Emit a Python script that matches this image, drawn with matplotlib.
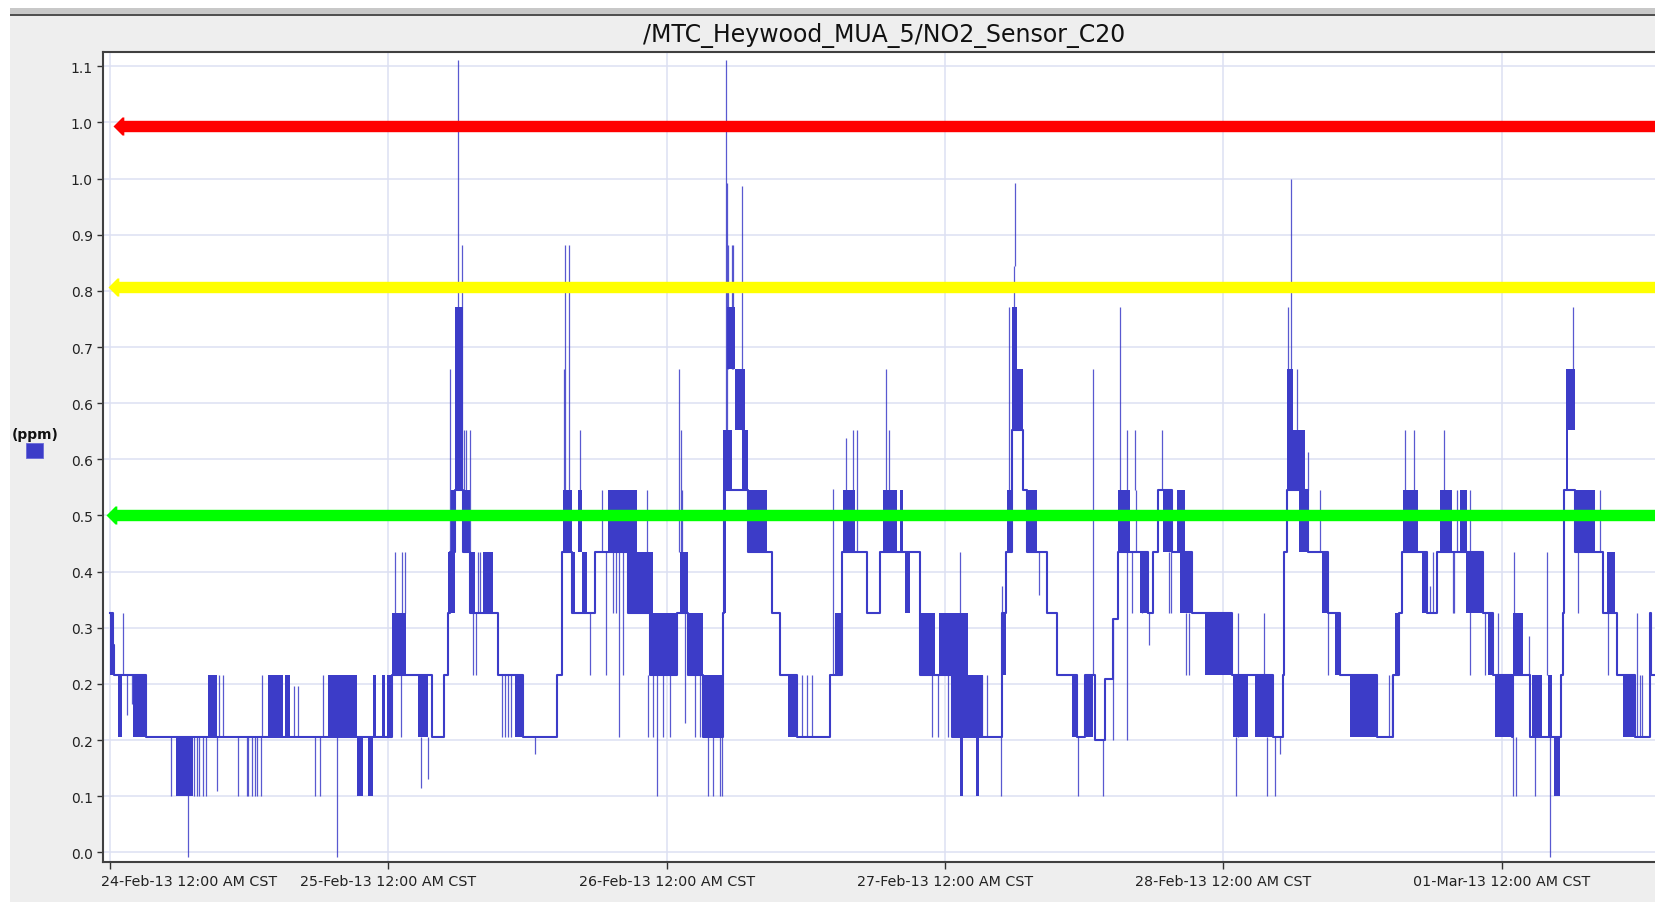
#NO2 sensor trace with alarm thresholds, recreated with matplotlib
import numpy as np
import matplotlib
matplotlib.use('Agg')
from matplotlib import pyplot as plt
from matplotlib.patches import Rectangle
from matplotlib.transforms import ScaledTranslation

#hours since 24-Feb-13 12:00 AM and the ppm level that starts there (step trace)
trace_h = [0.0, 0.25, 0.36, 3.1, 24.3, 27.75, 28.81, 29.18, 29.3, 29.76,
           30.48, 31.05, 33.5, 35.65, 38.52, 39.0, 39.82, 41.83, 44.7, 46.57,
           48.87, 49.87, 51.11, 52.89, 52.95, 54.99, 57.05, 57.77, 59.21, 62.08,
           63.09, 65.24, 66.39, 69.85, 72.58, 76.89, 77.26, 77.75, 78.76, 79.04,
           80.77, 81.63, 83.35, 84.07, 84.93, 85.8, 86.51, 86.95, 89.53, 89.96,
           90.39, 91.54, 93.26, 96.71, 100.3, 101.17, 101.2, 101.45, 103.32, 105.05,
           106.05, 109.21, 110.65, 111.13, 111.4, 113.52, 114.38, 118.41, 119.27, 120.85,
           120.99, 122.43, 125.1, 125.3, 125.39, 126.31, 128.75, 129.9, 131.48, 132.77,
           132.85, 133.3]
trace_ppm = [0.341, 0.295, 0.252, 0.165, 0.252, 0.165, 0.252, 0.341, 0.428, 0.516,
             0.428, 0.341, 0.252, 0.165, 0.252, 0.428, 0.341, 0.428, 0.341, 0.252,
             0.341, 0.252, 0.165, 0.341, 0.516, 0.428, 0.341, 0.252, 0.165, 0.252,
             0.428, 0.341, 0.428, 0.252, 0.165, 0.341, 0.428, 0.602, 0.516, 0.428,
             0.341, 0.252, 0.165, 0.252, 0.160, 0.247, 0.333, 0.428, 0.341, 0.428,
             0.516, 0.428, 0.341, 0.252, 0.165, 0.252, 0.428, 0.516, 0.428, 0.341,
             0.252, 0.165, 0.252, 0.341, 0.428, 0.341, 0.428, 0.341, 0.252, 0.165,
             0.252, 0.165, 0.252, 0.341, 0.516, 0.428, 0.341, 0.252, 0.165, 0.341,
             0.252, 0.252]

#stretches where the reading flickers fast between two levels (start h, end h, low, high)
band_start = [0.0, 0.74, 2.03, 5.71, 8.44, 13.67, 15.1, 18.84, 21.28, 22.29,
              22.72, 23.44, 23.87, 24.3, 26.6, 29.18, 29.39, 29.76, 30.48, 31.05,
              32.2, 34.93, 39.1, 39.82, 40.39, 40.68, 42.98, 44.7, 46.57, 49.15,
              49.87, 51.11, 52.89, 52.95, 53.2, 53.89, 54.47, 54.99, 58.49, 62.51,
              63.18, 66.69, 68.12, 68.55, 69.85, 71.51, 72.58, 73.3, 74.01, 74.68,
              76.89, 77.32, 77.75, 78.18, 79.04, 82.92, 84.07, 86.95, 88.81, 90.82,
              91.97, 92.26, 94.41, 96.86, 98.72, 101.45, 101.89, 102.55, 104.47, 105.62,
              106.91, 110.79, 111.51, 113.15, 114.67, 116.39, 116.9, 118.84, 119.41, 120.27,
              120.99, 122.57, 124.01, 124.53, 125.5, 125.73, 126.31, 129.04, 130.47]
band_end = [0.36, 1.05, 3.03, 7.2, 9.27, 14.96, 15.53, 21.28, 21.86, 22.72,
            22.95, 23.73, 24.3, 25.51, 27.46, 29.76, 29.76, 30.48, 31.05, 31.48,
            33.06, 35.65, 39.82, 40.1, 40.68, 41.1, 45.42, 46.85, 48.87, 49.87,
            51.16, 52.89, 53.1, 53.61, 53.9, 54.76, 55.04, 56.62, 59.21, 63.09,
            64.24, 67.84, 68.41, 68.99, 71.14, 72.58, 74.01, 73.58, 75.3, 74.9,
            77.26, 77.75, 78.18, 78.76, 79.91, 83.35, 84.79, 87.95, 89.53, 91.54,
            92.69, 93.26, 96.71, 98.15, 100.3, 102.03, 103.03, 103.32, 105.05, 106.05,
            109.21, 111.13, 112.8, 113.52, 115.68, 116.97, 118.41, 119.27, 120.27, 120.85,
            121.85, 123.43, 124.3, 125.01, 125.73, 126.31, 128.03, 129.76, 131.48]
band_low = [0.252, 0.165, 0.165, 0.080, 0.165, 0.165, 0.165, 0.165, 0.080, 0.080,
            0.165, 0.165, 0.165, 0.252, 0.165, 0.341, 0.428, 0.516, 0.428, 0.341,
            0.341, 0.165, 0.428, 0.341, 0.428, 0.341, 0.428, 0.341, 0.252, 0.341,
            0.252, 0.165, 0.341, 0.516, 0.689, 0.602, 0.516, 0.428, 0.165, 0.252,
            0.428, 0.428, 0.428, 0.341, 0.252, 0.252, 0.165, 0.080, 0.165, 0.080,
            0.252, 0.428, 0.602, 0.602, 0.428, 0.165, 0.165, 0.428, 0.341, 0.428,
            0.428, 0.341, 0.252, 0.165, 0.165, 0.516, 0.516, 0.428, 0.341, 0.252,
            0.165, 0.252, 0.428, 0.341, 0.428, 0.428, 0.341, 0.252, 0.165, 0.165,
            0.252, 0.165, 0.165, 0.080, 0.516, 0.602, 0.428, 0.341, 0.165]
band_high = [0.341, 0.252, 0.252, 0.165, 0.252, 0.252, 0.252, 0.252, 0.165, 0.165,
             0.252, 0.252, 0.252, 0.341, 0.252, 0.428, 0.516, 0.777, 0.516, 0.428,
             0.428, 0.252, 0.516, 0.428, 0.516, 0.428, 0.516, 0.428, 0.341, 0.428,
             0.341, 0.252, 0.602, 0.602, 0.777, 0.689, 0.602, 0.516, 0.252, 0.341,
             0.516, 0.516, 0.516, 0.428, 0.341, 0.341, 0.341, 0.165, 0.252, 0.165,
             0.341, 0.516, 0.777, 0.689, 0.516, 0.252, 0.252, 0.516, 0.428, 0.516,
             0.516, 0.428, 0.341, 0.252, 0.252, 0.689, 0.602, 0.516, 0.428, 0.341,
             0.252, 0.341, 0.516, 0.428, 0.516, 0.516, 0.428, 0.341, 0.252, 0.252,
             0.341, 0.252, 0.252, 0.165, 0.689, 0.689, 0.516, 0.428, 0.252]

#single readings that jump away from the trace (hour, from, to)
spike_h = [1.11, 1.51, 1.88, 5.25, 6.77, 7.29, 7.49, 7.69, 8.0, 8.29,
           9.21, 9.44, 9.79, 11.08, 11.8, 11.94, 12.29, 12.52, 12.66, 13.03,
           13.15, 15.91, 16.25, 17.69, 18.12, 18.35, 19.6, 24.59, 25.08, 25.16,
           25.45, 26.8, 27.46, 29.35, 30.05, 30.33, 30.55, 30.71, 31.05, 31.35,
           31.55, 31.7, 31.9, 33.78, 34.07, 34.36, 34.6, 36.66, 39.15, 39.24,
           39.6, 40.5, 41.4, 42.4, 42.78, 43.41, 43.6, 43.93, 44.27, 46.28,
           46.37, 46.8, 47.72, 48.29, 47.14, 49.1, 49.21, 49.3, 49.58, 50.45,
           50.88, 51.6, 52.03, 52.6, 52.74, 53.12, 53.18, 53.3, 53.6, 53.75,
           54.47, 59.64, 60.07, 60.5, 62.37, 63.46, 64.1, 64.44, 66.82, 66.92,
           67.2, 70.85, 71.43, 72.29, 73.3, 75.16, 75.6, 76.8, 76.89, 77.55,
           77.95, 78.04, 80.14, 83.5, 84.73, 85.65, 86.51, 87.09, 87.66, 88.38,
           88.1, 88.96, 89.39, 88.47, 89.61, 90.74, 91.3, 91.5, 92.8, 93.0,
           97.09, 97.29, 99.5, 99.73, 100.45, 100.9, 101.54, 101.83, 102.32, 103.32,
           104.33, 105.05, 110.3, 110.5, 111.65, 112.43, 113.81, 114.1, 115.04, 115.75,
           115.9, 116.11, 117.26, 118.55, 119.64, 121.08, 121.0, 121.2, 122.37, 122.86,
           123.86, 124.15, 126.11, 126.59, 128.5, 129.18, 131.62, 131.91, 132.05]
spike_from = [0.252, 0.196, 0.212, 0.080, -0.007, 0.080, 0.080, 0.080, 0.080, 0.080,
              0.088, 0.165, 0.165, 0.080, 0.080, 0.080, 0.080, 0.080, 0.080, 0.080,
              0.165, 0.165, 0.165, 0.080, 0.080, 0.165, -0.007, 0.341, 0.165, 0.341,
              0.341, 0.091, 0.104, 0.428, 0.689, 0.516, 0.516, 0.516, 0.428, 0.252,
              0.252, 0.341, 0.341, 0.165, 0.165, 0.165, 0.165, 0.140, 0.516, 0.428,
              0.428, 0.516, 0.252, 0.428, 0.252, 0.341, 0.341, 0.165, 0.252, 0.428,
              0.165, 0.165, 0.165, 0.165, 0.080, 0.428, 0.428, 0.428, 0.184, 0.165,
              0.165, 0.080, 0.080, 0.080, 0.080, 0.602, 0.602, 0.689, 0.689, 0.689,
              0.602, 0.165, 0.165, 0.165, 0.252, 0.516, 0.516, 0.428, 0.428, 0.428,
              0.516, 0.165, 0.165, 0.165, 0.341, 0.165, 0.165, 0.080, 0.341, 0.516,
              0.777, 0.836, 0.366, 0.080, 0.252, 0.080, 0.160, 0.516, 0.160, 0.516,
              0.341, 0.341, 0.341, 0.428, 0.295, 0.516, 0.341, 0.341, 0.252, 0.252,
              0.080, 0.165, 0.252, 0.080, 0.080, 0.140, 0.689, 0.689, 0.602, 0.516,
              0.428, 0.252, 0.165, 0.165, 0.516, 0.516, 0.341, 0.341, 0.516, 0.341,
              0.341, 0.428, 0.252, 0.252, 0.252, 0.341, 0.080, 0.080, 0.252, 0.080,
              0.252, -0.007, 0.689, 0.341, 0.428, 0.252, 0.165, 0.165, 0.165]
spike_to = [0.341, 0.252, 0.252, 0.165, 0.165, 0.165, 0.165, 0.165, 0.165, 0.165,
            0.165, 0.252, 0.252, 0.165, 0.165, 0.165, 0.165, 0.165, 0.165, 0.165,
            0.252, 0.237, 0.237, 0.165, 0.165, 0.252, 0.165, 0.428, 0.252, 0.428,
            0.428, 0.165, 0.165, 0.689, 1.129, 0.866, 0.602, 0.602, 0.602, 0.341,
            0.341, 0.428, 0.428, 0.252, 0.252, 0.252, 0.252, 0.165, 0.689, 0.866,
            0.866, 0.602, 0.341, 0.516, 0.428, 0.428, 0.428, 0.428, 0.428, 0.516,
            0.252, 0.252, 0.252, 0.252, 0.252, 0.689, 0.602, 0.516, 0.341, 0.252,
            0.252, 0.165, 0.165, 0.165, 0.165, 1.129, 0.954, 0.866, 0.866, 0.866,
            0.950, 0.252, 0.252, 0.252, 0.517, 0.590, 0.602, 0.602, 0.516, 0.689,
            0.602, 0.252, 0.252, 0.252, 0.428, 0.252, 0.252, 0.165, 0.379, 0.777,
            0.836, 0.954, 0.428, 0.165, 0.689, 0.160, 0.333, 0.777, 0.602, 0.602,
            0.428, 0.428, 0.428, 0.516, 0.341, 0.602, 0.428, 0.428, 0.341, 0.341,
            0.165, 0.341, 0.341, 0.165, 0.165, 0.165, 0.777, 0.960, 0.689, 0.570,
            0.516, 0.341, 0.252, 0.252, 0.602, 0.602, 0.379, 0.428, 0.602, 0.428,
            0.428, 0.516, 0.516, 0.341, 0.341, 0.428, 0.165, 0.165, 0.308, 0.165,
            0.428, 0.165, 0.777, 0.428, 0.516, 0.341, 0.341, 0.252, 0.252]

#alarm thresholds (ppm) and where their arrow tip sits (hours)
limit_ppm = [1.035, 0.805, 0.481]
limit_tip_h = [0.25, -0.13, -0.33]
limit_colors = ['#ff0000', '#ffff00', '#00ff00']

#axis ticks
ytick_ppm = [0.0, 0.08, 0.16, 0.24, 0.32, 0.40, 0.48, 0.56, 0.64, 0.72, 0.80, 0.88, 0.96, 1.04, 1.12]
ytick_labels = ['0.0', '0.1', '0.2', '0.2', '0.3', '0.4', '0.5', '0.6', '0.6', '0.7', '0.8', '0.9', '1.0', '1.0', '1.1']
xtick_h = [0, 24, 48, 72, 96, 120]
xtick_labels = ['24-Feb-13 12:00 AM CST', '25-Feb-13 12:00 AM CST', '26-Feb-13 12:00 AM CST',
                '27-Feb-13 12:00 AM CST', '28-Feb-13 12:00 AM CST', '01-Mar-13 12:00 AM CST']

title = '/MTC_Heywood_MUA_5/NO2_Sensor_C20'
unit_label = '(ppm)'

BLUE = '#3c3cc8'
W, H = 1655, 903

plt.rcParams['font.family'] = ['DejaVu Sans']
fig = plt.figure(figsize=(W / 100, H / 100), dpi=100, facecolor='white')

#window background: grey panel, top strip and dark rule (kept behind the axes)
fig.patches.append(Rectangle((10 / W, 0), 1, (H - 16) / H, transform=fig.transFigure,
                             facecolor='#eeeeee', edgecolor='none', zorder=-10))
fig.patches.append(Rectangle((10 / W, (H - 15) / H), 1, 6 / H, transform=fig.transFigure,
                             facecolor='#c8c8c8', edgecolor='none', zorder=-10))
fig.patches.append(Rectangle((10 / W, (H - 16.7) / H), 1, 1.7 / H, transform=fig.transFigure,
                             facecolor='#505050', edgecolor='none', zorder=-10))

ax = fig.add_axes([103.3 / W, 40.3 / H, 1 - 103.3 / W, (862.7 - 52.7) / H])
ax.set_facecolor('white')

#data
bw = np.array(band_end) - np.array(band_start)
bh = np.array(band_high) - np.array(band_low)
ax.bar(x=band_start, height=bh, width=bw, bottom=band_low, align='edge',
       color=BLUE, linewidth=0, zorder=2)
ax.vlines(spike_h, spike_from, spike_to, color=BLUE, linewidth=0.9, alpha=0.85, zorder=2)
ax.plot(trace_h, trace_ppm, drawstyle='steps-post', color=BLUE, linewidth=1.5, zorder=3)

#threshold arrows
head = [(0, 0), (1, 1), (1.2, 1), (1.2, -1), (1, -1)]
for y, tip, c in zip(limit_ppm, limit_tip_h, limit_colors):
    ax.plot([tip + 0.6, 140], [y, y], color=c, linewidth=8.2, solid_capstyle='butt', zorder=5)
    ax.plot([tip], [y], marker=head, markersize=15.6, color=c, markeredgewidth=0, zorder=5)

ax.set_xlim(-0.56, 133.2)
ax.set_ylim(-0.0134, 1.1408)

ax.set_yticks(ytick_ppm)
ax.set_yticklabels(ytick_labels)
ax.set_xticks(xtick_h)
ax.set_xticklabels(xtick_labels)

ax.grid(True, color='#dde0f2', linewidth=1.1)
ax.set_axisbelow(True)

for side in ['left', 'bottom', 'top']:
    ax.spines[side].set_color('#404040')
    ax.spines[side].set_linewidth(1.5)
ax.spines['right'].set_visible(False)

ax.tick_params(axis='y', direction='out', length=4.5, width=1, colors='#303030',
               labelsize=10, pad=3, labelcolor='#222222')
ax.tick_params(axis='x', direction='out', length=5, width=1, colors='#303030',
               labelsize=10.3, pad=4, labelcolor='#222222')

#first date label is pushed right so it starts at the axis edge
first = ax.get_xticklabels()[0]
first.set_horizontalalignment('left')
first.set_transform(first.get_transform() + ScaledTranslation(-0.085, 0, fig.dpi_scale_trans))

fig.text(884.5 / W, (H - 35.5) / H, title, ha='center', va='center', fontsize=17, color='#111111')

#legend entry on the left
fig.text(34.8 / W, (H - 435) / H, unit_label, ha='center', va='center', fontsize=10,
         fontweight='bold', color='#111111')
fig.patches.append(Rectangle((26 / W, (H - 459) / H), 17.3 / W, 14.7 / H, transform=fig.transFigure,
                             facecolor=BLUE, edgecolor='#6a6ad8', linewidth=0.6, zorder=3))

plt.savefig('out.png', dpi=100)
